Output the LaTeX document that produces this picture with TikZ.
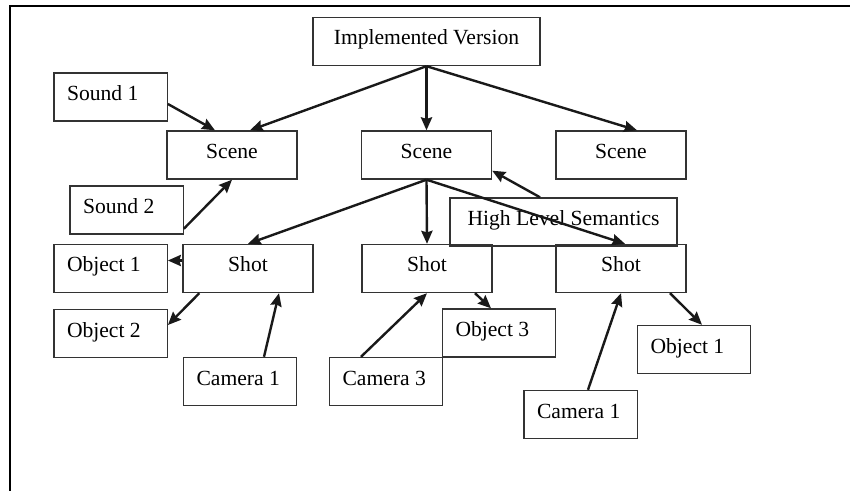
\documentclass[tikz,border=0pt]{standalone}
\usepackage{fontspec}
\setmainfont{Liberation Serif}
\usetikzlibrary{positioning,arrows.meta,calc}

\begin{document}
\begin{tikzpicture}[x=0.5pt,y=-0.5pt,
    font=\fontsize{10.8pt}{13pt}\selectfont,
    box/.style={draw=black!80, line width=0.7pt, rectangle, minimum height=24pt, text height=7.5pt, text depth=4pt, inner sep=0pt},
    wide/.style={box, minimum width=113.5pt},
    mid/.style={box, minimum width=65pt},
    item/.style={box, minimum width=56.5pt, text width=43.5pt, inner xsep=6.6pt, align=flush left},
    link/.style={line width=1.2pt, black!90, -{Stealth[length=6.5pt,width=5.6pt,inset=0.8pt]}}]
    \useasboundingbox (0,0) rectangle (850,491);
    % frame
    \draw[line width=1.1pt] (10,491) -- (10,6) -- (850,6);

    \node (iv) [wide] at (426.5,41.5) {Implemented Version};

    \node (sound1) [item] at (110.5,97) {Sound 1};
    \node (scene1) [mid] at (232,155) {Scene};
    \node (scene2) [mid] at (426.5,155) {Scene};
    \node (scene3) [mid] at (621,155) {Scene};
    \node (sound2) [item] at (126.5,210) {Sound 2};

    \node (hls) [wide] at (563.5,222) {High Level Semantics};

    \node (obj1) [item] at (110.5,268.5) {Object 1};
    \node (shot1) [mid] at (248,268.5) {Shot};
    \node (shot2) [mid] at (427,268.5) {Shot};
    \node (shot3) [mid] at (621,268.5) {Shot};

    \node (obj2) [item] at (110.5,333.5) {Object 2};
    \node (obj3) [item] at (499,333) {Object 3};
    \node (obj1r) [item] at (694,349.5) {Object 1};
    \node (cam1) [item] at (240,381.5) {Camera 1};
    \node (cam3) [item] at (386,381.5) {Camera 3};
    \node (cam1r) [item] at (580.5,414.5) {Camera 1};

    % Arrows between boxes
    \draw[link] (iv.south) -- ([xshift=9pt]scene1.north);
    \draw[link] (iv.south) -- (scene2.north);
    \draw[link] (iv.south) -- ([xshift=8pt]scene3.north);
    \draw[link] ([yshift=-3.5pt]sound1.east) -- ([xshift=-8.5pt]scene1.north);
    \draw[link] ([yshift=3pt]sound2.south east) -- (scene1.south);
    \draw[link] (scene2.south) -- (shot1.north);
    \draw[link] (scene2.south) -- (shot2.north);
    \draw[link] (scene2.south) -- ([xshift=2pt]shot3.north);
    \draw[link] ([xshift=-11.75pt]hls.north) -- ([yshift=4.5pt]scene2.south east);
    \draw[link] ([yshift=4pt]shot1.west) -- ([yshift=4pt]obj1.east);
    \draw[link] ([xshift=8.5pt]shot1.south west) -- ([yshift=4.25pt]obj2.east);
    \draw[link] ([xshift=12pt]cam1.north) -- ([xshift=15.5pt]shot1.south);
    \draw[link] ([xshift=-12.5pt]cam3.north) -- (shot2.south);
    \draw[link] ([xshift=24pt]shot2.south) -- ([xshift=-4pt]obj3.north);
    \draw[link] ([xshift=3.75pt]cam1r.north) -- (shot3.south);
    \draw[link] ([xshift=24.5pt]shot3.south) -- ([xshift=4pt]obj1r.north);
\end{tikzpicture}
\end{document}
